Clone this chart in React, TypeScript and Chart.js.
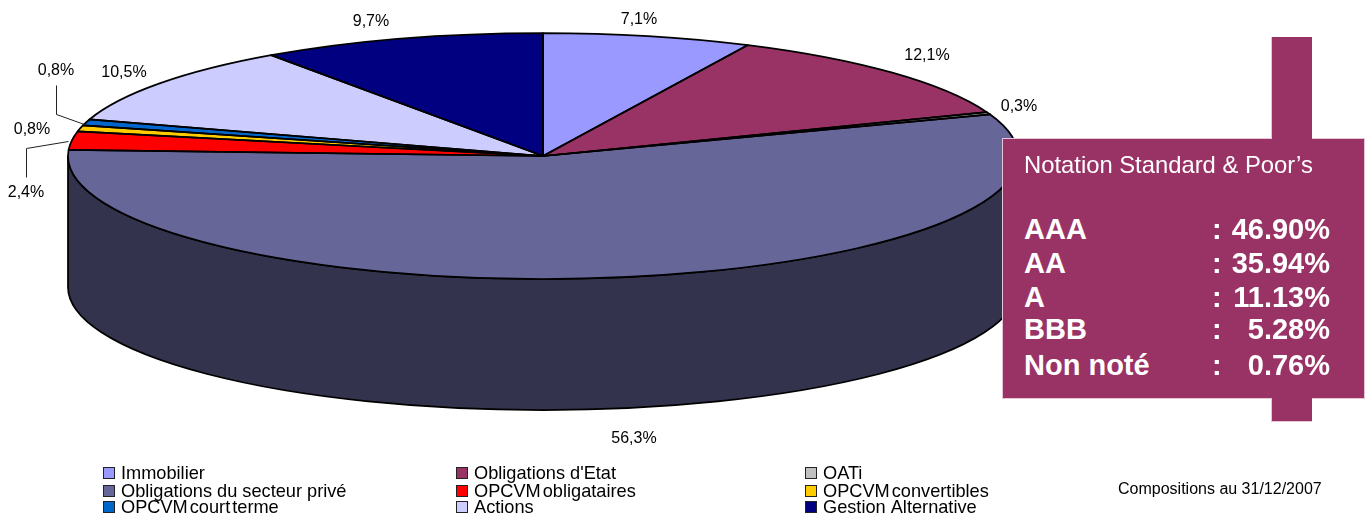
import React, { useEffect, useRef } from "react";
import { Chart, registerables } from "chart.js";

Chart.register(...registerables);

const categories = [
  "Immobilier",
  "Obligations d'Etat",
  "OATi",
  "Obligations du secteur privé",
  "OPCVM obligataires",
  "OPCVM convertibles",
  "OPCVM court terme",
  "Actions",
  "Gestion Alternative",
];
const shares = [7.1, 12.1, 0.3, 56.3, 2.4, 0.8, 0.8, 10.5, 9.7];
const sliceColors = ["#9999FF", "#993366", "#C0C0C0", "#666699", "#FF0000", "#FFCC00", "#0066CC", "#CCCCFF", "#000080"];
const ratingNames = ["AAA", "AA", "A", "BBB", "Non noté"];
const ratingValues = ["46.90%", "35.94%", "11.13%", "5.28%", "0.76%"];
const boxTitle = "Notation Standard & Poor’s";
const dateNote = "Compositions au 31/12/2007";

const FONT = '"Liberation Sans", Arial, sans-serif';
const RX = 475;
const RY = 123;
const DEPTH = 131;
const labelAnchors: [number, number][] = [
  [639, 20], [927, 56], [1019, 107], [634, 439], [26, 193], [32, 130], [56, 71], [124, 73], [371, 22],
];
const leaders: [number, number][][] = [
  [[26, 177], [26, 148], [68, 141]],
  [[56, 85], [56, 114], [84, 124]],
];
const legendCols = [103, 456, 805];
const legendRows = [474, 492, 508];

const darken = (hex: string) => {
  const n = parseInt(hex.slice(1), 16);
  const h = (v: number) => Math.round(v / 2).toString(16).padStart(2, "0");
  return `#${h((n >> 16) & 255)}${h((n >> 8) & 255)}${h(n & 255)}`;
};

const pie3d = {
  id: "pie3d",
  beforeDatasetsDraw(chart: any) {
    const { ctx } = chart;
    const arcs = chart.getDatasetMeta(0).data;
    const { x, y, outerRadius } = arcs[0];
    // side wall: only the part of each slice that faces the viewer
    arcs.forEach((arc: any, i: number) => {
      const a0 = Math.max(arc.startAngle, 0);
      const a1 = Math.min(arc.endAngle, Math.PI);
      if (a1 <= a0) return;
      ctx.save();
      ctx.beginPath();
      ctx.ellipse(x, y, RX, RY, 0, a0, a1);
      ctx.ellipse(x, y + DEPTH, RX, RY, 0, a1, a0, true);
      ctx.closePath();
      ctx.fillStyle = darken(sliceColors[i]);
      ctx.fill();
      ctx.strokeStyle = "#000";
      ctx.lineWidth = 1.75;
      ctx.stroke();
      ctx.restore();
    });
    ctx.save();
    ctx.translate(x, y);
    ctx.scale(RX / outerRadius, RY / outerRadius);
    ctx.translate(-x, -y);
  },
  afterDatasetsDraw(chart: any) {
    const { ctx } = chart;
    ctx.restore();
    const arcs = chart.getDatasetMeta(0).data;
    arcs.forEach((arc: any) => {
      ctx.save();
      ctx.beginPath();
      ctx.moveTo(arc.x, arc.y);
      ctx.ellipse(arc.x, arc.y, RX, RY, 0, arc.startAngle, arc.endAngle);
      ctx.closePath();
      ctx.strokeStyle = "#000";
      ctx.lineWidth = 1.75;
      ctx.lineJoin = "round";
      ctx.stroke();
      ctx.restore();
    });
    // leader lines
    ctx.save();
    ctx.strokeStyle = "#222";
    ctx.lineWidth = 1;
    leaders.forEach((line) => {
      ctx.beginPath();
      line.forEach(([px, py], i) => (i ? ctx.lineTo(px + 0.5, py + 0.5) : ctx.moveTo(px + 0.5, py + 0.5)));
      ctx.stroke();
    });
    // value labels
    ctx.fillStyle = "#000";
    ctx.font = `16px ${FONT}`;
    ctx.textAlign = "center";
    ctx.textBaseline = "middle";
    shares.forEach((v, i) => {
      ctx.fillText(`${v.toFixed(1).replace(".", ",")}%`, labelAnchors[i][0], labelAnchors[i][1]);
    });
    // legend
    ctx.textAlign = "left";
    ctx.font = `18.2px ${FONT}`;
    categories.forEach((name, i) => {
      const col = legendCols[i % 3];
      const row = legendRows[Math.floor(i / 3)];
      ctx.fillStyle = sliceColors[i];
      ctx.fillRect(col + 0.5, row - 6.5, 11, 11);
      ctx.strokeStyle = "#222";
      ctx.lineWidth = 1;
      ctx.strokeRect(col + 0.5, row - 6.5, 11, 11);
      ctx.fillStyle = "#000";
      ctx.wordSpacing = name.startsWith("OPCVM") ? "-3px" : "0px";
      ctx.fillText(name, col + 18, row);
    });
    ctx.wordSpacing = "0px";
    ctx.font = `16px ${FONT}`;
    ctx.fillText(dateNote, 1118, 490);
    ctx.restore();
  },
};

export default function App() {
  const ref = useRef<HTMLCanvasElement>(null);
  useEffect(() => {
    document.body.style.margin = "0";
    const chart = new Chart(ref.current!, {
      type: "pie",
      data: {
        labels: categories,
        datasets: [{ data: shares, backgroundColor: sliceColors, borderWidth: 0, clip: false } as any],
      },
      options: {
        responsive: false,
        animation: false,
        events: [],
        layout: { padding: { left: 0, right: 282, top: 0, bottom: 203 } },
        plugins: { legend: { display: false }, tooltip: { enabled: false } },
      },
      plugins: [pie3d],
    } as any);
    return () => chart.destroy();
  }, []);

  const bar: React.CSSProperties = { position: "absolute", background: "#993366", border: "1px solid #E6C6D6", boxSizing: "border-box" };
  return (
    <div style={{ position: "relative", width: 1368, height: 515, overflow: "hidden", fontFamily: FONT }}>
      <canvas ref={ref} width={1368} height={515} style={{ display: "block", width: 1368, height: 515 }} />
      <div style={{ ...bar, left: 1271, top: 37, width: 41, height: 385 }} />
      <div style={{ ...bar, left: 1002, top: 138, width: 363, height: 261 }} />
      <div style={{ position: "absolute", left: 1271.5, top: 37, width: 40, height: 384, background: "#993366" }} />
      <div style={{ position: "absolute", left: 1024, top: 151, color: "#fff", fontSize: 23.8, lineHeight: "27px", whiteSpace: "nowrap" }}>{boxTitle}</div>
      {ratingNames.map((name, i) => {
        const top = [213, 247, 281, 313, 349][i];
        const st: React.CSSProperties = { position: "absolute", top, color: "#fff", fontSize: 29, fontWeight: 700, lineHeight: "32px", whiteSpace: "nowrap" };
        return (
          <React.Fragment key={name}>
            <div style={{ ...st, left: 1024 }}>{name}</div>
            <div style={{ ...st, left: 1212 }}>:</div>
            <div style={{ ...st, right: 1368 - 1330 }}>{ratingValues[i]}</div>
          </React.Fragment>
        );
      })}
    </div>
  );
}
